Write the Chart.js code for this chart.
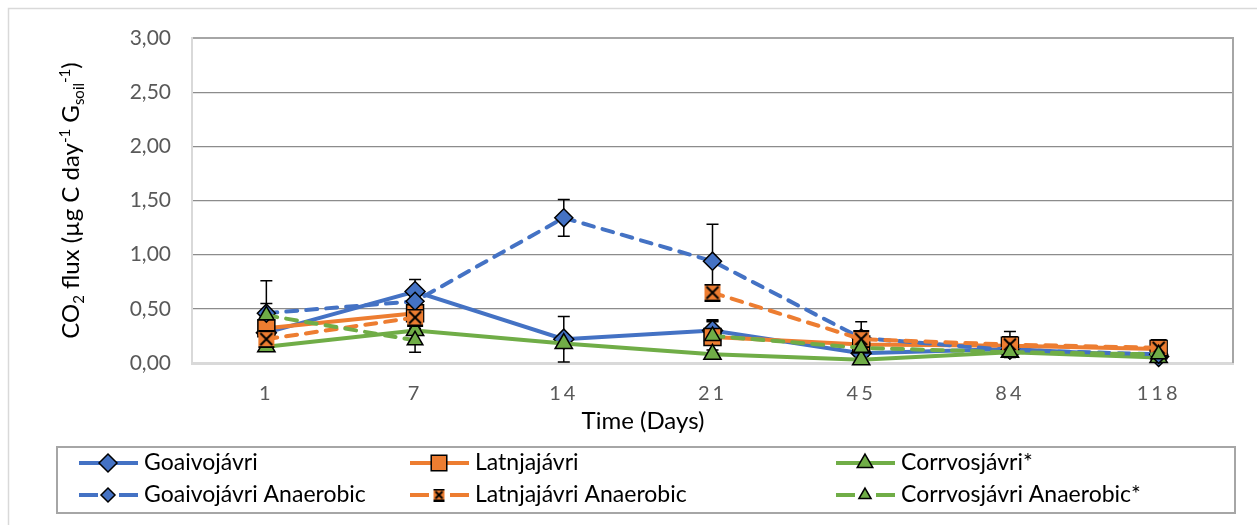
<!DOCTYPE html>
<html>
<head>
<meta charset="utf-8">
<script src="https://cdn.jsdelivr.net/npm/chart.js@4/dist/chart.umd.min.js"></script>
<style>
  html, body { margin: 0; padding: 0; background: #fff; }
  #wrap { position: relative; width: 1257px; height: 525px; }
</style>
</head>
<body>
<div id="wrap"><canvas id="chart"></canvas></div>
<script>
// Incubation days (categories) and CO2 flux per lake.
const DAYS = ['1', '7', '14', '21', '45', '84', '118'];

const GOAIVO        = [0.28, 0.66, 0.22, 0.30, 0.09, 0.13, 0.06];
const GOAIVO_ERR    = [null, 0.11, 0.21, 0.10, null, null, null];
const LATNJA        = [0.32, 0.46, null, 0.24, 0.17, 0.16, 0.13];
const LATNJA_ERR    = [null, 0.10, null, 0.15, null, null, 0.07];
const CORRVO        = [0.15, 0.30, 0.18, 0.08, 0.03, 0.10, 0.05];
const CORRVO_ERR    = [null, null, null, null, null, null, null];
const GOAIVO_AN     = [0.46, 0.57, 1.34, 0.94, 0.23, 0.12, 0.08];
const GOAIVO_AN_ERR = [0.30, null, 0.17, 0.34, null, null, null];
const LATNJA_AN     = [0.22, 0.42, null, 0.65, 0.22, 0.17, 0.14];
const LATNJA_AN_ERR = [null, null, null, null, 0.16, 0.12, null];
const CORRVO_AN     = [0.44, 0.21, null, 0.25, 0.14, 0.10, 0.08];
const CORRVO_AN_ERR = [0.11, 0.11, null, 0.13, null, null, null];

const Y_MIN = 0, Y_MAX = 3, Y_STEP = 0.5;

const BLUE = '#4472C4', ORANGE = '#ED7D31', GREEN = '#70AD47';
const FONT = 'Lato';

// orange square with a black cross, like Excel's "x" marker on a filled box
function crossMarker(size) {
  const c = document.createElement('canvas');
  c.width = c.height = size;
  const g = c.getContext('2d');
  const m = size - 1;
  g.fillStyle = ORANGE;
  g.fillRect(1, 1, m - 1, m - 1);
  g.strokeStyle = '#000';
  g.lineWidth = 2;
  g.beginPath();
  g.moveTo(3, 3); g.lineTo(m - 2, m - 2);
  g.moveTo(m - 2, 3); g.lineTo(3, m - 2);
  g.moveTo(1, 1); g.lineTo(m, 1);
  g.moveTo(1, m); g.lineTo(m, m);
  g.stroke();
  return c;
}

function series(label, data, errors, color, style, radius, dashed, legendStyle, legendRadius) {
  return {
    label, data, errors,
    borderColor: color,
    borderWidth: 4,
    borderDash: dashed ? [11, 9] : [],
    borderCapStyle: dashed ? 'round' : 'butt',
    pointStyle: style,
    pointRadius: radius,
    pointBackgroundColor: color,
    pointBorderColor: '#000',
    pointBorderWidth: 1.5,
    legendStyle: legendStyle || style,
    legendRadius: legendRadius || radius,
    spanGaps: false,
    clip: false,
    tension: 0
  };
}

const datasets = [
  series('Goaivojávri', GOAIVO, GOAIVO_ERR, BLUE, 'rectRot', 10, false, null, 9),
  series('Latnjajávri', LATNJA, LATNJA_ERR, ORANGE, 'rect', 12, false, null, 11),
  series('Corrvosjávri*', CORRVO, CORRVO_ERR, GREEN, 'triangle', 10, false, null, 9),
  series('Goaivojávri Anaerobic', GOAIVO_AN, GOAIVO_AN_ERR, BLUE, 'rectRot', 9, true, null, 7),
  series('Latnjajávri Anaerobic', LATNJA_AN, LATNJA_AN_ERR, ORANGE, crossMarker(18), 9, true, crossMarker(13), 7),
  series('Corrvosjávri Anaerobic*', CORRVO_AN, CORRVO_AN_ERR, GREEN, 'triangle', 9, true, null, 7)
];
// later series on top, as in the spreadsheet
datasets.forEach((d, i) => { d.order = datasets.length - i; });

const errorBars = {
  id: 'errorBars',
  beforeDatasetsDraw(chart) {
    const { ctx, scales: { x, y } } = chart;
    ctx.save();
    ctx.strokeStyle = '#000';
    ctx.lineWidth = 1.5;
    chart.data.datasets.forEach(ds => {
      ds.errors.forEach((e, j) => {
        if (e == null || ds.data[j] == null) return;
        const px = x.getPixelForValue(j);
        const top = y.getPixelForValue(ds.data[j] + e);
        const bot = y.getPixelForValue(Math.max(0, ds.data[j] - e));
        ctx.beginPath();
        ctx.moveTo(px, top); ctx.lineTo(px, bot);
        ctx.moveTo(px - 6, top); ctx.lineTo(px + 6, top);
        ctx.moveTo(px - 6, bot); ctx.lineTo(px + 6, bot);
        ctx.stroke();
      });
    });
    ctx.restore();
  }
};

const frame = {
  id: 'frame',
  afterLayout(chart) {
    const xs = chart.scales.x;
    if (!xs._spaced) {
      const orig = xs.drawLabels.bind(xs);
      xs.drawLabels = function (area) {
        this.ctx.save();
        this.ctx.letterSpacing = '3px';
        orig(area);
        this.ctx.restore();
      };
      xs._spaced = true;
    }
  },
  beforeDraw(chart) {
    const { ctx } = chart;
    ctx.save();
    ctx.fillStyle = '#fff';
    ctx.fillRect(0, 0, chart.width, chart.height);
    ctx.strokeStyle = '#d9d9d9';
    ctx.lineWidth = 1.5;
    ctx.beginPath();
    ctx.moveTo(8.5, chart.height); ctx.lineTo(8.5, 8.5); ctx.lineTo(chart.width, 8.5);
    ctx.stroke();
    ctx.restore();
  },
  afterDraw(chart) {
    const { ctx, chartArea: a } = chart;
    ctx.save();
    // right edge of the plot area
    ctx.strokeStyle = '#a6a6a6';
    ctx.lineWidth = 2;
    ctx.beginPath();
    ctx.moveTo(a.right, a.top - 1); ctx.lineTo(a.right, a.bottom);
    ctx.stroke();

    // x axis title
    ctx.fillStyle = '#000';
    ctx.font = `24px ${FONT}`;
    ctx.textAlign = 'center';
    ctx.textBaseline = 'middle';
    ctx.fillText('Time (Days)', 643, 421);

    // y axis title with sub/superscripts
    const parts = [['CO', 0], ['2', 1], [' flux (µg C day', 0], ['-1', -1], [' G', 0], ['soil', 1], ['-1', -1], [')', 0]];
    const fontOf = p => p[1] === 0 ? `24px ${FONT}` : `15px ${FONT}`;
    let total = 0;
    parts.forEach(p => { ctx.font = fontOf(p); total += ctx.measureText(p[0]).width; });
    ctx.translate(71, a.top + (a.bottom - a.top) / 2);
    ctx.rotate(-Math.PI / 2);
    ctx.textAlign = 'left';
    ctx.textBaseline = 'alphabetic';
    let cx = -total / 2;
    parts.forEach(p => {
      ctx.font = fontOf(p);
      const dy = p[1] === 1 ? 13 : (p[1] === -1 ? -1 : 8);
      ctx.fillText(p[0], cx, dy);
      cx += ctx.measureText(p[0]).width;
    });
    ctx.restore();

    // legend box
    ctx.save();
    ctx.strokeStyle = '#a6a6a6';
    ctx.lineWidth = 2;
    ctx.strokeRect(57, 447, 1178, 66);
    const cols = [79, 410, 836];
    const rows = [463, 495];
    chart.data.datasets.forEach((ds, i) => {
      const x0 = cols[i % 3], y0 = rows[Math.floor(i / 3)];
      ctx.strokeStyle = ds.borderColor;
      ctx.lineWidth = 4;
      ctx.lineCap = 'butt';
      ctx.setLineDash([]);
      ctx.beginPath();
      if (ds.borderDash.length) {
        ctx.moveTo(x0, y0); ctx.lineTo(x0 + 19, y0);
        ctx.moveTo(x0 + 40, y0); ctx.lineTo(x0 + 59, y0);
      } else {
        ctx.moveTo(x0, y0); ctx.lineTo(x0 + 59, y0);
      }
      ctx.stroke();
      ctx.fillStyle = ds.pointBackgroundColor;
      ctx.strokeStyle = ds.pointBorderColor;
      ctx.lineWidth = ds.pointBorderWidth;
      Chart.helpers.drawPoint(ctx, {
        pointStyle: ds.legendStyle, radius: ds.legendRadius, rotation: 0, borderWidth: ds.pointBorderWidth
      }, x0 + 29, y0);
      ctx.fillStyle = '#000';
      ctx.font = `23px ${FONT}`;
      ctx.textAlign = 'left';
      ctx.textBaseline = 'middle';
      ctx.fillText(ds.label, x0 + 65, y0);
    });
    ctx.restore();
  }
};

new Chart(document.getElementById('chart'), {
  type: 'line',
  data: { labels: DAYS, datasets },
  options: {
    responsive: true,
    maintainAspectRatio: false,
    animation: false,
    layout: { padding: { top: 38, right: 24, left: 0, bottom: 0 } },
    plugins: { legend: { display: false }, tooltip: { enabled: false } },
    scales: {
      x: {
        offset: true,
        grid: { display: false, drawTicks: false },
        border: { display: true, color: '#d9d9d9', width: 3 },
        ticks: { color: '#595959', font: { family: FONT, size: 20 }, padding: 19 },
        afterFit(s) { s.height = 162; }
      },
      y: {
        min: Y_MIN, max: Y_MAX,
        grid: {
          drawTicks: false,
          color: c => c.tick.value === 0 ? '#d9d9d9' : (c.tick.value === Y_MAX ? '#a6a6a6' : '#8c8c8c'),
          lineWidth: c => c.tick.value === 0 ? 3 : (c.tick.value === Y_MAX ? 2 : 1.25)
        },
        border: { display: true, color: '#d9d9d9', width: 2 },
        ticks: {
          stepSize: Y_STEP,
          color: '#595959',
          font: { family: FONT, size: 21 },
          padding: 21,
          callback: v => v.toFixed(2).replace('.', ',')
        },
        afterFit(s) { s.width = 192; }
      }
    }
  },
  plugins: [errorBars, frame]
});
</script>
</body>
</html>
